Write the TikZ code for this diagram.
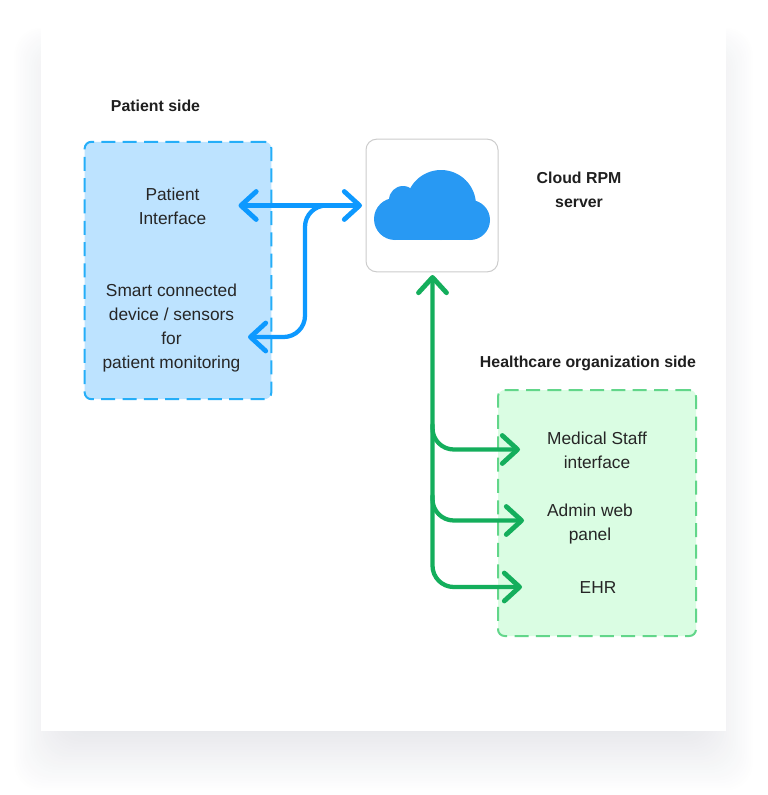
\documentclass[tikz,border=0pt]{standalone}
\usepackage{fontspec}
\setmainfont{Liberation Sans}
\usetikzlibrary{arrows.meta}
\definecolor{bluefill}{HTML}{BDE3FF}
\definecolor{bluedash}{HTML}{25AEF8}
\definecolor{blueline}{HTML}{0D99FF}
\definecolor{greenfill}{HTML}{DAFDE3}
\definecolor{greendash}{HTML}{62D68A}
\definecolor{greenline}{HTML}{14AE5C}
\definecolor{cloudblue}{HTML}{2899F3}
\definecolor{frame}{HTML}{CCCCCC}
\definecolor{shade}{HTML}{5A5F78}
\tikzset{
  x=0.75pt, y=-0.75pt,
  zone/.style={draw=#1, line width=1.5pt, rounded corners=5pt, dash pattern=on 10.5pt off 5.5pt},
  label/.style={font=\fontsize{13}{18}\selectfont, text=black!85, align=center, inner sep=0pt},
  heading/.style={font=\fontsize{11.9}{18}\selectfont\bfseries, text=black!88, align=center, inner sep=0pt},
  barbtip/.tip={Straight Barb[round,length=11.5pt,width=21pt,line width=3.6pt]},
  bluelink/.style={draw=blueline, line width=3.2pt, line cap=round, rounded corners=16pt},
  greenlink/.style={draw=greenline, line width=3.2pt, line cap=round, rounded corners=16pt}
}
\begin{document}
\begin{tikzpicture}
\useasboundingbox (0,0) rectangle (767,795);
% soft shadow beneath the card: nested tints, lightest outside
\foreach \g in {1,...,24}{
  \pgfmathsetmacro{\tint}{0.58*\g}
  \fill[shade!\tint!white, rounded corners=20pt]
    ({41-29+2.2*\g},{26+1.7*\g}) rectangle ({726+29-2.2*\g},{731+62-2.58*\g});
}
% card
\fill[white] (41,22) rectangle (726,731);

% zones
\node[zone=bluedash, fill=bluefill, minimum width=140pt, minimum height=193pt, inner sep=0pt]
  (patientzone) at (178,270.5) {};
\node[zone=greendash, fill=greenfill, minimum width=148.5pt, minimum height=184.5pt, inner sep=0pt]
  (orgzone) at (597,513) {};

% server tile with its cloud
\node[draw=frame, line width=0.75pt, fill=white, rounded corners=8pt, minimum width=99pt, minimum height=99.5pt, inner sep=0pt]
  (server) at (432,205.5) {};
\fill[cloudblue] (441,205) circle[radius=35];
\fill[cloudblue] (395,219) circle[radius=21];
\fill[cloudblue] (403,200) circle[radius=14];
\fill[cloudblue] (470,220) circle[radius=20];
\fill[cloudblue] (395,205) rectangle (470,240);

% texts
\node[heading] (patienttitle) at (155.5,106) {Patient side};
\node[heading] (servertitle) at (579,190) {Cloud RPM\\server};
\node[heading] (orgtitle) at (588,363) {Healthcare organization side};
\node[label] (patientui) at (172.5,206) {Patient\\Interface};
\node[label] (device) at (171.5,328.5) {Smart connected\\device / sensors\\for\\patient monitoring};
\node[label] (staff) at (597,450) {Medical Staff\\interface};
\node[label] (admin) at (590,524) {Admin web\\panel};
\node[label] (ehr) at (598,588) {EHR};

% connector end points
\coordinate (uitip) at (238.5,205.5);
\coordinate (servertip) at (362,205.5);
\coordinate (devicetip) at (248,337);
\coordinate (split) at (330,205.5);
\coordinate (cloudtip) at (432.5,275);
\coordinate (staffbranch) at (432.5,425);
\coordinate (adminbranch) at (432.5,496);
\coordinate (stafftip) at (520,449.5);
\coordinate (admintip) at (524,520.5);
\coordinate (ehrtip) at (522,587);

% patient side links
\draw[bluelink, barbtip-barbtip] (uitip) -- (servertip);
\draw[bluelink, -barbtip] (split) -| (305,337) -- (devicetip);

% organization side links
\draw[greenlink, barbtip-barbtip] (cloudtip) |- (ehrtip);
\draw[greenlink, -barbtip] (staffbranch) |- (stafftip);
\draw[greenlink, -barbtip] (adminbranch) |- (admintip);
\end{tikzpicture}
\end{document}
